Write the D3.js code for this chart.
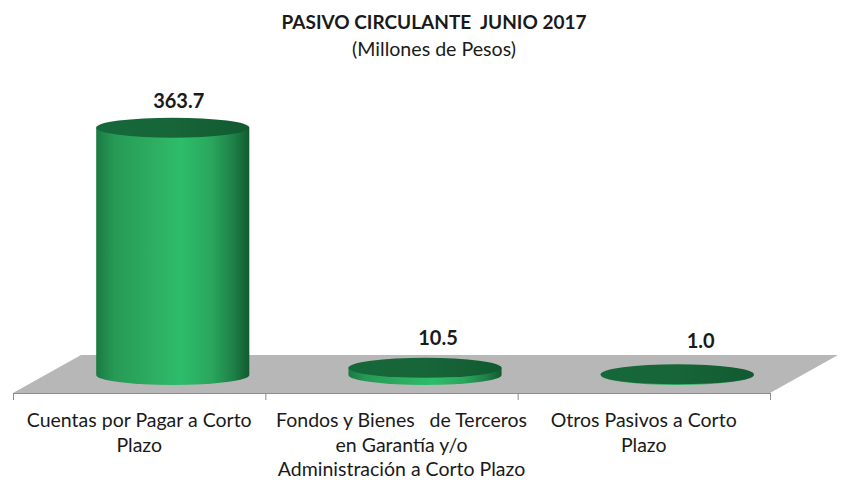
<!DOCTYPE html>
<html>
<head>
<meta charset="utf-8">
<script src="https://cdnjs.cloudflare.com/ajax/libs/d3/7.8.5/d3.min.js"></script>
<style>
  html, body { margin: 0; padding: 0; background: #fff; }
  text { font-family: Lato, "Noto Sans", sans-serif; fill: #1a1a1a; }
  .axis path, .axis line { stroke: #8c8c8c; }
</style>
</head>
<body>
<div id="chart"></div>
<script>
var categories = ["Cuentas por Pagar a Corto Plazo", "Fondos y Bienes   de Terceros en Garantía y/o Administración a Corto Plazo", "Otros Pasivos a Corto Plazo"];
var categoryLines = [
  ["Cuentas por Pagar a Corto", "Plazo"],
  ["Fondos y Bienes   de Terceros", "en Garantía y/o", "Administración a Corto Plazo"],
  ["Otros Pasivos a Corto", "Plazo"]
];
var values = [363.7, 10.5, 1.0];
var valueLabels = ["363.7", "10.5", "1.0"];
var title = "PASIVO CIRCULANTE  JUNIO 2017";
var subtitle = "(Millones de Pesos)";

var width = 843, height = 480;
var floorY = 393, backY = 355, depthX = 68;
var left = 13, right = 770;

var svg = d3.select("#chart").append("svg")
  .attr("width", width)
  .attr("height", height);

var x = d3.scaleBand().domain(categories).range([left, right]).paddingInner(0.393).paddingOuter(0.197);
var tickScale = d3.scaleLinear().domain([0, categories.length]).range([left, right]);
var y = d3.scaleLinear().domain([0, 400]).range([375, 103]);

// gradients
var defs = svg.append("defs");
var side = defs.append("linearGradient").attr("id", "side");
[[0, "#1a7a43"], [0.12, "#279a55"], [0.35, "#2dac60"], [0.55, "#2dbd69"], [0.75, "#2aa75d"], [0.9, "#1d7f47"], [1, "#125a30"]]
  .forEach(function (s) { side.append("stop").attr("offset", s[0]).attr("stop-color", s[1]); });
var topG = defs.append("linearGradient").attr("id", "top");
[[0, "#15683a"], [0.5, "#176539"], [1, "#125a31"]]
  .forEach(function (s) { topG.append("stop").attr("offset", s[0]).attr("stop-color", s[1]); });

// floor
svg.append("polygon")
  .attr("points", [[left, floorY], [left + depthX, backY], [right + depthX, backY], [right, floorY]].join(" "))
  .attr("fill", "#b7b7b7");

// axis
svg.append("g")
  .attr("class", "axis")
  .attr("transform", "translate(0," + floorY + ")")
  .call(d3.axisBottom(tickScale).tickValues(d3.range(categories.length + 1)).tickSize(7).tickSizeOuter(0).tickFormat(""));

// cylinders
var shiftX = 33.5, ry = 10;
var bars = svg.selectAll(".bar")
  .data(categories)
  .enter().append("g")
  .attr("class", "bar")
  .attr("transform", "translate(" + shiftX + ",0)");

bars.append("path")
  .attr("fill", "url(#side)")
  .attr("d", function (d, i) {
    var l = x(d), r = l + x.bandwidth(), rx = x.bandwidth() / 2;
    return "M" + l + "," + y(values[i]) + "L" + l + "," + y(0) +
      "A" + rx + "," + ry + " 0 0 0 " + r + "," + y(0) +
      "L" + r + "," + y(values[i]) + "Z";
  });

bars.append("ellipse")
  .attr("fill", "url(#top)")
  .attr("cx", function (d) { return x(d) + x.bandwidth() / 2; })
  .attr("cy", function (d, i) { return y(values[i]); })
  .attr("rx", x.bandwidth() / 2)
  .attr("ry", ry);

// value labels, hand placed over each cylinder like in the original
var nudgeX = [39.5, 46.5, 57], nudgeY = [20, 22.5, 26];
svg.selectAll(".value")
  .data(categories)
  .enter().append("text")
  .attr("class", "value")
  .attr("x", function (d, i) { return x(d) + x.bandwidth() / 2 + nudgeX[i]; })
  .attr("y", function (d, i) { return y(values[i]) - nudgeY[i]; })
  .attr("text-anchor", "middle")
  .style("font-weight", "700")
  .style("font-size", "20px")
  .text(function (d, i) { return valueLabels[i]; });

// category labels, the middle one sits a bit to the right in the original
var catNudge = [0, 10, 0];
var cat = svg.selectAll(".cat")
  .data(categories)
  .enter().append("text")
  .attr("class", "cat")
  .attr("text-anchor", "middle")
  .style("font-size", "19.5px");

cat.selectAll("tspan")
  .data(function (d, i) { return categoryLines[i].map(function (t) { return { t: t, c: d, n: catNudge[i] }; }); })
  .enter().append("tspan")
  .attr("x", function (d) { return x(d.c) + x.bandwidth() / 2 + d.n; })
  .attr("y", function (d, i) { return 427 + i * 24.5; })
  .attr("xml:space", "preserve")
  .text(function (d) { return d.t; });

// titles
svg.append("text")
  .attr("x", 434).attr("y", 29)
  .attr("text-anchor", "middle")
  .attr("xml:space", "preserve")
  .style("font-weight", "700")
  .style("font-size", "19px")
  .text(title);

svg.append("text")
  .attr("x", 434).attr("y", 56)
  .attr("text-anchor", "middle")
  .style("font-size", "19.6px")
  .text(subtitle);
</script>
</body>
</html>
